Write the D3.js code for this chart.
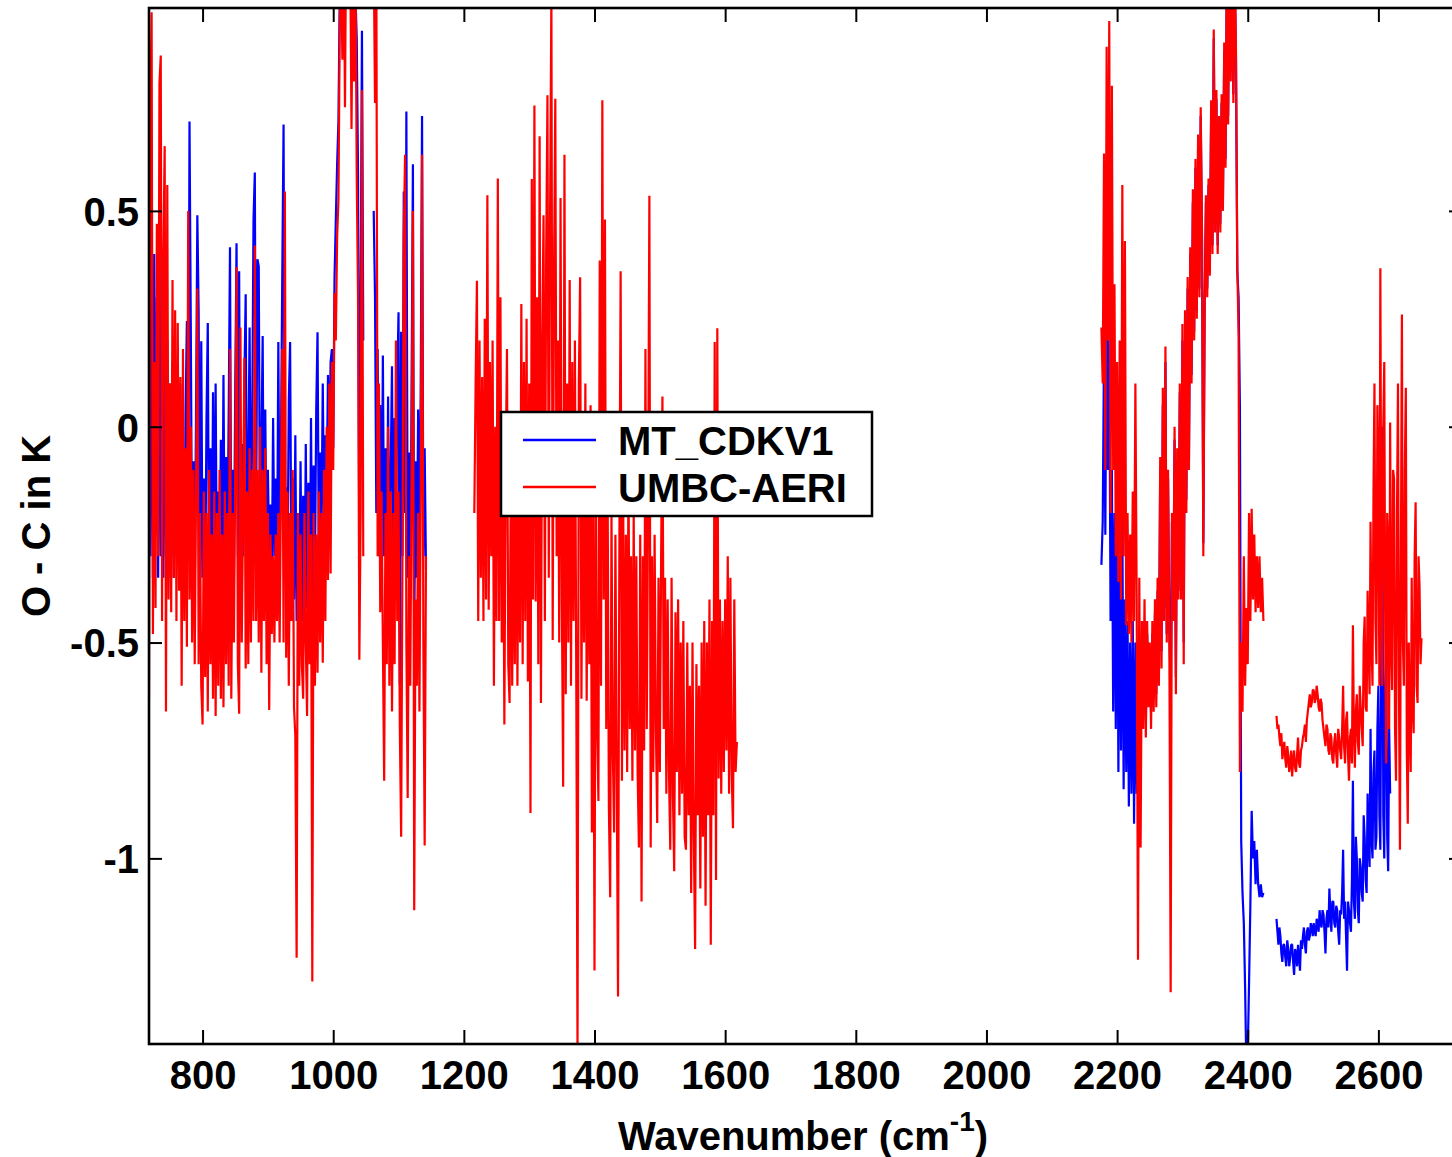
<!DOCTYPE html>
<html>
<head>
<meta charset="utf-8">
<script src="https://cdnjs.cloudflare.com/ajax/libs/d3/7.8.5/d3.min.js"></script>
<style>
body { margin: 0; background: #fff; }
text { font-family: "Liberation Sans", Arial, sans-serif; font-weight: bold; }
</style>
</head>
<body>
<div id="container"></div>
<script>
var WIDTH = 1452,
	HEIGHT = 1157,
	LEFT = 149,
	RIGHT = 1462,
	TOP = 8,
	BOTTOM = 1044;

// axis ticks
var xTicks = [800, 1000, 1200, 1400, 1600, 1800, 2000, 2200, 2400, 2600];
var yTicks = [0.5, 0, -0.5, -1];
var yTickLabels = ['0.5', '0', '-0.5', '-1'];
var seriesNames = ['MT_CDKV1', 'UMBC-AERI'];
var seriesColors = ['#0000ff', '#ff0000'];

// spectral bands: first wavenumber and channel step (cm-1)
var band1Start = 718, band1Step = 2;
var band2Start = 1216, band2Step = 2;
var band3Start = 2176, band3Step = 2;
var band4Start = 2444, band4Step = 1.5;

// O - C residuals (K); null = no channel
var red1 = [-0.63, 0.72, 0.96, -0.48, 0.15, -0.42, 0.47, -0.3, 0.795, 0.86,
	-0.45, 0.4, 0.65, -0.66, 0.56, -0.4, 0.1, -0.43, 0.34, -0.35,
	0.27, -0.45, 0.24, -0.38, 0.115, -0.6, 0.18, -0.45, -0.05, -0.51,
	0.5, -0.4, 0.0, -0.5, -0.1, -0.55, -0.15, 0.32, -0.55, -0.2,
	-0.6, -0.69, -0.15, -0.58, -0.2, -0.66, -0.1, -0.55, -0.25, -0.63,
	-0.15, -0.67, -0.2, -0.6, -0.1, -0.63, -0.25, -0.65, -0.15, -0.55,
	-0.2, -0.6, 0.18, -0.63, -0.2, -0.5, -0.1, 0.37, -0.55, -0.665,
	0.23, -0.5, -0.2, 0.16, -0.56, -0.15, -0.55, -0.05, -0.5, -0.1,
	-0.45, 0.42, -0.45, -0.1, -0.5, 0.0, -0.57, -0.1, -0.45, -0.05,
	-0.55, -0.2, -0.656, -0.25, -0.48, -0.3, -0.5, -0.25, -0.45, -0.2,
	-0.5, -0.15, 0.18, -0.5, 0.545, -0.535, -0.15, -0.6, -0.2, -0.45,
	-0.1, -0.65, -0.716, -1.23, -0.2, -0.6, -0.25, -0.55, -0.63, -0.2,
	-0.5, -0.67, -0.15, -0.55, -0.25, -1.285, -0.2, -0.6, -0.25, -0.57,
	-0.15, -0.5, -0.2, -0.547, -0.1, -0.45, 0.0, -0.355, 0.1, -0.34,
	0.15, -0.1, 0.31, 0.2, 0.44, 0.525, 0.93, 1.1, 0.85, 1.2,
	0.74, 1.2, 1.2, 1.2, 1.1, 0.69, 1.1, 0.8, 1.1, 0.58,
	0.3, -0.54, -0.2, 0.78, -0.3, null, null, null, null, null,
	null, null, 1.1, 0.75, 1.1, -0.3, 0.1, -0.43, -0.15, -0.5,
	-0.82, -0.2, -0.55, 0.0, -0.6, -0.15, -0.66, -0.2, -0.55, 0.2,
	-0.45, -0.15, -0.7, -0.95, -0.3, 0.44, 0.63, -0.5, -0.86, -0.3,
	-0.6, -0.1, 0.5, -1.12, -0.4, -0.6, -0.2, -0.66, -0.15, 0.63,
	-0.5, -0.97, -0.3];
var blue1 = [0.3, -0.3, 0.5, -0.35, 0.4, -0.25, 0.3, -0.35, 0.45, -0.3,
	0.2, -0.35, 0.3, -0.3, 0.2, -0.35, 0.1, -0.3, 0.15, -0.35,
	0.1, -0.3, 0.05, -0.35, 0.1, -0.3, -0.06, -0.35, 0.03, 0.245,
	-0.3, 0.707, 0.226, -0.35, -0.08, -0.4, 0.04, 0.49, 0.265, -0.38,
	0.198, -0.35, -0.12, -0.4, 0.02, 0.24, -0.42, -0.05, -0.4, 0.08,
	-0.35, 0.1, -0.4, -0.15, -0.38, -0.03, -0.4, 0.12, -0.35, -0.07,
	-0.3, 0.03, 0.416, -0.38, -0.1, -0.35, 0.09, 0.425, -0.3, 0.36,
	-0.35, -0.04, -0.3, 0.1, 0.307, -0.3, -0.09, 0.23, -0.3, 0.02,
	0.48, 0.589, -0.25, 0.388, 0.372, -0.3, -0.06, 0.21, -0.35, 0.04,
	-0.35, -0.1, -0.3, -0.18, -0.35, 0.02, -0.3, -0.12, -0.35, 0.196,
	-0.3, -0.05, 0.346, 0.70, -0.3, -0.14, -0.35, 0.06, 0.196, -0.35,
	-0.12, -0.4, -0.02, -0.45, -0.2, -0.4, -0.08, -0.45, -0.16, -0.45,
	-0.04, -0.42, -0.13, -0.45, 0.02, -0.4, -0.09, -0.35, 0.04, 0.219,
	-0.3, -0.06, -0.25, 0.1, -0.2, -0.02, -0.15, 0.12, -0.1, 0.15,
	0.18, -0.05, 0.344, 0.48, 0.608, 0.707, 1.0, 1.1, 1.2, 1.2,
	1.2, 1.2, 1.2, 1.2, 1.2, 1.2, 1.1, 1.1, 1.0, 0.9,
	0.589, -0.327, 0.3, 0.917, 0.2, null, null, null, null, null,
	null, null, 0.5, 0.3, -0.2, 0.18, -0.3, 0.05, -0.35, 0.165,
	-0.3, -0.05, -0.35, 0.07, -0.4, -0.1, 0.14, -0.35, 0.02, -0.3,
	0.1, 0.265, -0.6, 0.22, -0.3, 0.545, -0.2, 0.73, -0.35, -0.06,
	-0.4, 0.1, 0.608, -0.49, -0.08, -0.35, 0.04, -0.3, 0.1, 0.72,
	-0.3, -0.05, -0.33];
var red2 = [-0.2, 0.1, 0.338, -0.45, 0.2, -0.35, 0.115, -0.45, 0.25, -0.4,
	0.536, -0.424, 0.15, -0.3, 0.2, -0.6, 0.0, -0.45, 0.575, -0.45,
	0.3, -0.5, -0.05, -0.69, -0.1, 0.18, -0.55, -0.64, -0.05, -0.6,
	-0.15, -0.55, 0.0, -0.6, -0.1, -0.5, 0.284, -0.55, 0.15, -0.45,
	0.25, -0.59, 0.1, -0.895, 0.574, -0.4, 0.744, -0.405, 0.3, -0.55,
	0.673, -0.64, 0.2, 0.49, -0.45, 0.4, 0.768, -0.35, 0.5, 1.0,
	-0.494, 0.35, 0.76, -0.3, 0.2, -0.5, 0.53, -0.4, -0.834, 0.63,
	-0.62, 0.1, -0.5, 0.34, -0.6, 0.15, -0.45, 0.2, -0.55, -1.45,
	0.1, 0.346, -0.63, 0.0, -0.5, 0.1, -0.635, -0.1, -0.55, 0.05,
	-0.94, -0.2, -1.26, 0.0, -0.7, -0.867, 0.385, -0.6, 0.756, -0.4,
	0.48, -0.7, -0.1, -0.88, -1.09, -0.2, -0.75, -0.94, -0.25, -0.8,
	-1.32, -0.3, 0.36, -0.82, -0.2, -0.75, -0.25, -0.8, -0.1, -0.7,
	-0.3, -0.82, -0.2, -0.75, -0.3, -0.8, -0.975, -0.25, -1.1, -0.3,
	-0.75, 0.18, -0.7, -0.2, 0.535, -0.975, -0.3, -0.8, -0.25, -0.7,
	-0.918, -0.35, -0.8, -0.3, 0.07, -0.7, -0.35, -0.85, -0.4, -0.8,
	-0.98, -0.35, -0.85, -1.03, -0.43, -0.8, -0.4, -0.9, -0.5, -0.85,
	-0.45, -0.95, -0.98, -0.5, -0.9, -0.6, -1.08, -0.5, -0.95, -1.21,
	-0.55, -0.9, -0.6, -1.07, -0.5, -0.95, -0.45, -1.11, -0.5, -0.9,
	-0.4, -1.2, -0.45, -0.9, 0.196, -1.05, 0.228, -0.815, -0.4, -0.85,
	-0.45, -0.8, -0.4, -0.75, -0.3, -0.85, -0.35, -0.8, -0.93, -0.4,
	-0.8, -0.73];
var red3 = [0.23, 0.1, 0.633, -0.1, 0.88, 0.2, 0.94, -0.2, 0.79, -0.1,
	0.33, -0.3, 0.15, -0.36, 0.2, -0.4, 0.56, -0.3, 0.43, -0.46,
	-0.2, -0.48, -0.25, -0.5, -0.15, -0.45, 0.1, -0.4, -1.235, -0.35,
	-0.975, -0.45, -0.7, -0.4, -0.72, -0.45, -0.65, -0.5, -0.7, -0.45,
	-0.66, -0.4, -0.65, -0.35, -0.6, -0.07, -0.56, 0.09, -0.45, 0.186,
	-0.5, -0.1, -0.5, -1.31, -0.2, -0.45, 0.0, -0.62, -0.05, -0.4,
	0.1, -0.4, 0.238, -0.55, 0.27, -0.2, 0.347, -0.1, 0.416, 0.1,
	0.55, 0.2, 0.62, 0.25, 0.677, 0.3, 0.74, 0.45, -0.3, 0.26,
	0.536, 0.3, 0.575, 0.35, 0.756, 0.4, 0.92, 0.45, 0.78, 0.4,
	0.72, 0.45, 0.77, 0.5, 0.89, 0.6, 1.1, 0.7, 1.15, 0.8,
	1.2, 0.75, 1.1, 0.87, 0.376, 0.21, -0.8, -0.5, -0.66, -0.3,
	-0.6, -0.42, -0.55, -0.2, -0.45, -0.19, -0.4, -0.25, -0.43, -0.3,
	-0.42, -0.3, -0.43, -0.35, -0.45];
var blue3 = [-0.32, -0.22, 0.18, -0.25, 0.305, -0.1, 0.2, -0.45, -0.1, -0.66,
	-0.2, -0.7, -0.15, -0.8, -0.3, -0.75, -0.2, -0.84, -0.4, -0.8,
	-0.45, -0.88, -0.5, -0.85, -0.45, -0.92, -0.5, -0.85, -0.55, -0.8,
	-0.6, -0.5, -0.65, -0.45, -0.68, -0.48, -0.62, -0.52, -0.66, -0.48,
	-0.63, -0.43, -0.62, -0.38, -0.58, -0.1, -0.52, 0.05, -0.42, 0.15,
	-0.48, -0.12, -0.47, -0.6, -0.22, -0.42, -0.03, -0.58, -0.08, -0.38,
	0.08, -0.38, 0.2, -0.5, 0.25, -0.17, 0.32, -0.08, 0.4, 0.12,
	0.52, 0.22, 0.6, 0.27, 0.65, 0.32, 0.72, 0.43, -0.27, 0.28,
	0.52, 0.32, 0.56, 0.37, 0.73, 0.42, 0.9, 0.47, 0.76, 0.42,
	0.7, 0.47, 0.75, 0.52, 0.87, 0.62, 1.05, 0.72, 1.1, 0.82,
	1.15, 0.77, 1.05, 0.85, 0.36, 0.3, 0.05, -0.96, -1.08, -1.15,
	-1.3, -1.5, -1.45, -1.29, -1.11, -0.89, -1.0, -0.96, -1.06, -0.98,
	-1.06, -1.09, -1.06, -1.09, -1.08];
var red4 = [-0.67, -0.7, -0.69, -0.72, -0.74, -0.71, -0.77, -0.75, -0.73, -0.77,
	-0.79, -0.74, -0.76, -0.8, -0.78, -0.75, -0.81, -0.77, -0.75, -0.79,
	-0.8, -0.76, -0.72, -0.78, -0.79, -0.75, -0.74, -0.72, -0.71, -0.69,
	-0.73, -0.68, -0.66, -0.64, -0.62, -0.65, -0.64, -0.61, -0.61, -0.64,
	-0.63, -0.6, -0.62, -0.65, -0.66, -0.63, -0.64, -0.68, -0.7, -0.72,
	-0.74, -0.69, -0.7, -0.75, -0.76, -0.71, -0.72, -0.77, -0.78, -0.73,
	-0.71, -0.76, -0.79, -0.7, -0.72, -0.75, -0.77, -0.7, -0.6, -0.74,
	-0.78, -0.68, -0.66, -0.76, -0.82, -0.72, -0.7, -0.78, -0.46, -0.7,
	-0.79, -0.66, -0.62, -0.73, -0.76, -0.6, -0.65, -0.7, -0.74, -0.5,
	-0.44, -0.65, -0.66, -0.38, -0.5, -0.62, -0.22, -0.5, -0.6, -0.15,
	0.1, -0.45, -0.55, 0.05, -0.1, -0.6, 0.367, -0.35, -0.6, 0.0,
	0.15, -0.5, -0.78, -0.2, -0.28, -0.7, 0.01, -0.5, -0.61, -0.1,
	-0.12, -0.7, -0.82, -0.2, 0.1, -0.6, -0.98, -0.3, 0.26, -0.5,
	-0.6, -0.1, 0.09, -0.75, -0.92, -0.5, -0.68, -0.8, -0.35, -0.65,
	-0.71, -0.3, -0.175, -0.6, -0.64, -0.3, -0.37, -0.55, -0.49];
var blue4 = [-1.14, -1.17, -1.2, -1.16, -1.18, -1.22, -1.24, -1.2, -1.2, -1.23,
	-1.25, -1.19, -1.21, -1.25, -1.23, -1.2, -1.2, -1.24, -1.27, -1.21,
	-1.22, -1.25, -1.2, -1.23, -1.26, -1.19, -1.21, -1.18, -1.16, -1.2,
	-1.22, -1.17, -1.16, -1.19, -1.18, -1.15, -1.16, -1.18, -1.15, -1.17,
	-1.18, -1.14, -1.15, -1.17, -1.12, -1.15, -1.16, -1.12, -1.13, -1.17,
	-1.22, -1.14, -1.12, -1.16, -1.07, -1.13, -1.17, -1.1, -1.1, -1.15,
	-1.16, -1.11, -1.12, -1.17, -1.2, -1.12, -1.13, -1.08, -0.98, -1.14,
	-1.1, -1.18, -1.26, -1.1, -1.12, -1.15, -1.17, -1.05, -0.82, -1.1,
	-1.14, -0.95, -1.0, -1.12, -1.15, -1.0, -1.02, -1.08, -1.1, -0.9,
	-0.95, -1.05, -1.08, -0.85, -0.97, -1.02, -0.7, -0.95, -1.0, -0.8,
	-0.75, -0.98, -0.95, -0.7, -0.6, -0.9, -0.98, -0.5, 0.0, -0.9,
	-1.0, -0.6, -0.5, -0.95, -1.03, -0.7, -0.85];

var xScale = d3.scaleLinear().domain([718, 2728]).range([LEFT, RIGHT]);
var yScale = d3.scaleLinear().domain([-1.43, 0.97]).range([BOTTOM, TOP]);

var translate = function (x, y) {
	return "translate(" + x + "," + y + ")";
};

function toPoints(values, start, step) {
	return values.map(function (v, i) {
		return { wn: start + i * step, v: v };
	});
}

var lineFunction = d3.line()
	.defined(function (d) { return d.v !== null; })
	.x(function (d) { return xScale(d.wn); })
	.y(function (d) { return yScale(d.v); });

function drawSeries(g, values, start, step, color) {
	g.append('path')
		.attr('d', lineFunction(toPoints(values, start, step)))
		.attr('fill', 'none')
		.attr('stroke', color)
		.attr('stroke-width', 2.2)
		.attr('stroke-linejoin', 'bevel');
}

function styleAxis(g, size) {
	g.select('.domain').remove();
	g.selectAll('.tick line').attr('stroke', '#000').attr('stroke-width', 2);
	g.selectAll('.tick text')
		.attr('fill', '#000')
		.attr('font-size', size)
		.attr('font-family', '"Liberation Sans", Arial, sans-serif')
		.attr('font-weight', 'bold');
}

function drawAxis(svg) {
	var bottom = svg.append('g')
		.attr('transform', translate(0, BOTTOM))
		.call(d3.axisBottom(xScale).tickValues(xTicks).tickSize(-14).tickPadding(16.5)
			.tickFormat(d3.format('d')));
	styleAxis(bottom, 40);

	var top = svg.append('g')
		.attr('transform', translate(0, TOP))
		.call(d3.axisTop(xScale).tickValues(xTicks).tickSize(-14).tickFormat(''));
	styleAxis(top, 40);

	var left = svg.append('g')
		.attr('transform', translate(LEFT, 0))
		.call(d3.axisLeft(yScale).tickValues(yTicks).tickSize(-13).tickPadding(10)
			.tickFormat(function (d, i) { return yTickLabels[i]; }));
	styleAxis(left, 40);
	left.selectAll('.tick text').attr('dy', '0.36em');

	var right = svg.append('g')
		.attr('transform', translate(RIGHT, 0))
		.call(d3.axisRight(yScale).tickValues(yTicks).tickSize(-13).tickFormat(''));
	styleAxis(right, 40);

	// frame
	svg.append('rect')
		.attr('x', LEFT)
		.attr('y', TOP)
		.attr('width', RIGHT - LEFT)
		.attr('height', BOTTOM - TOP)
		.attr('fill', 'none')
		.attr('stroke', '#000')
		.attr('stroke-width', 2.6);
}

function drawTitles(svg) {
	var xt = svg.append('text')
		.attr('x', 803)
		.attr('y', 1150)
		.attr('text-anchor', 'middle')
		.attr('font-size', 40);
	xt.append('tspan').text('Wavenumber (cm');
	xt.append('tspan').attr('dy', -19).attr('font-size', 28).text('-1');
	xt.append('tspan').attr('dy', 19).text(')');

	svg.append('text')
		.attr('transform', translate(50, 526) + ' rotate(-90)')
		.attr('text-anchor', 'middle')
		.attr('font-size', 40)
		.text('O - C in K');
}

function drawLegend(svg) {
	var lg = svg.append('g');
	lg.append('rect')
		.attr('x', 501)
		.attr('y', 412)
		.attr('width', 371)
		.attr('height', 104)
		.attr('fill', '#fff')
		.attr('stroke', '#000')
		.attr('stroke-width', 2.5);
	seriesNames.forEach(function (name, i) {
		var y = 440 + i * 47;
		lg.append('line')
			.attr('x1', 523)
			.attr('x2', 596)
			.attr('y1', y)
			.attr('y2', y)
			.attr('stroke', seriesColors[i])
			.attr('stroke-width', 2.5);
		lg.append('text')
			.attr('x', 618)
			.attr('y', y + 15)
			.attr('font-size', 40)
			.text(name);
	});
}

function drawChart() {
	var svg = d3.select('#container')
		.append('svg')
		.attr('width', WIDTH)
		.attr('height', HEIGHT);

	svg.append('clipPath')
		.attr('id', 'plotClip')
		.append('rect')
		.attr('x', LEFT)
		.attr('y', TOP)
		.attr('width', RIGHT - LEFT)
		.attr('height', BOTTOM - TOP);

	var plot = svg.append('g').attr('clip-path', 'url(#plotClip)');

	// MT_CDKV1 first, UMBC-AERI drawn over it
	drawSeries(plot, blue1, band1Start, band1Step, seriesColors[0]);
	drawSeries(plot, blue3, band3Start, band3Step, seriesColors[0]);
	drawSeries(plot, blue4, band4Start, band4Step, seriesColors[0]);
	drawSeries(plot, red1, band1Start, band1Step, seriesColors[1]);
	drawSeries(plot, red2, band2Start, band2Step, seriesColors[1]);
	drawSeries(plot, red3, band3Start, band3Step, seriesColors[1]);
	drawSeries(plot, red4, band4Start, band4Step, seriesColors[1]);

	drawAxis(svg);
	drawTitles(svg);
	drawLegend(svg);
}

window.onload = function () {
	drawChart();
};
</script>
</body>
</html>
